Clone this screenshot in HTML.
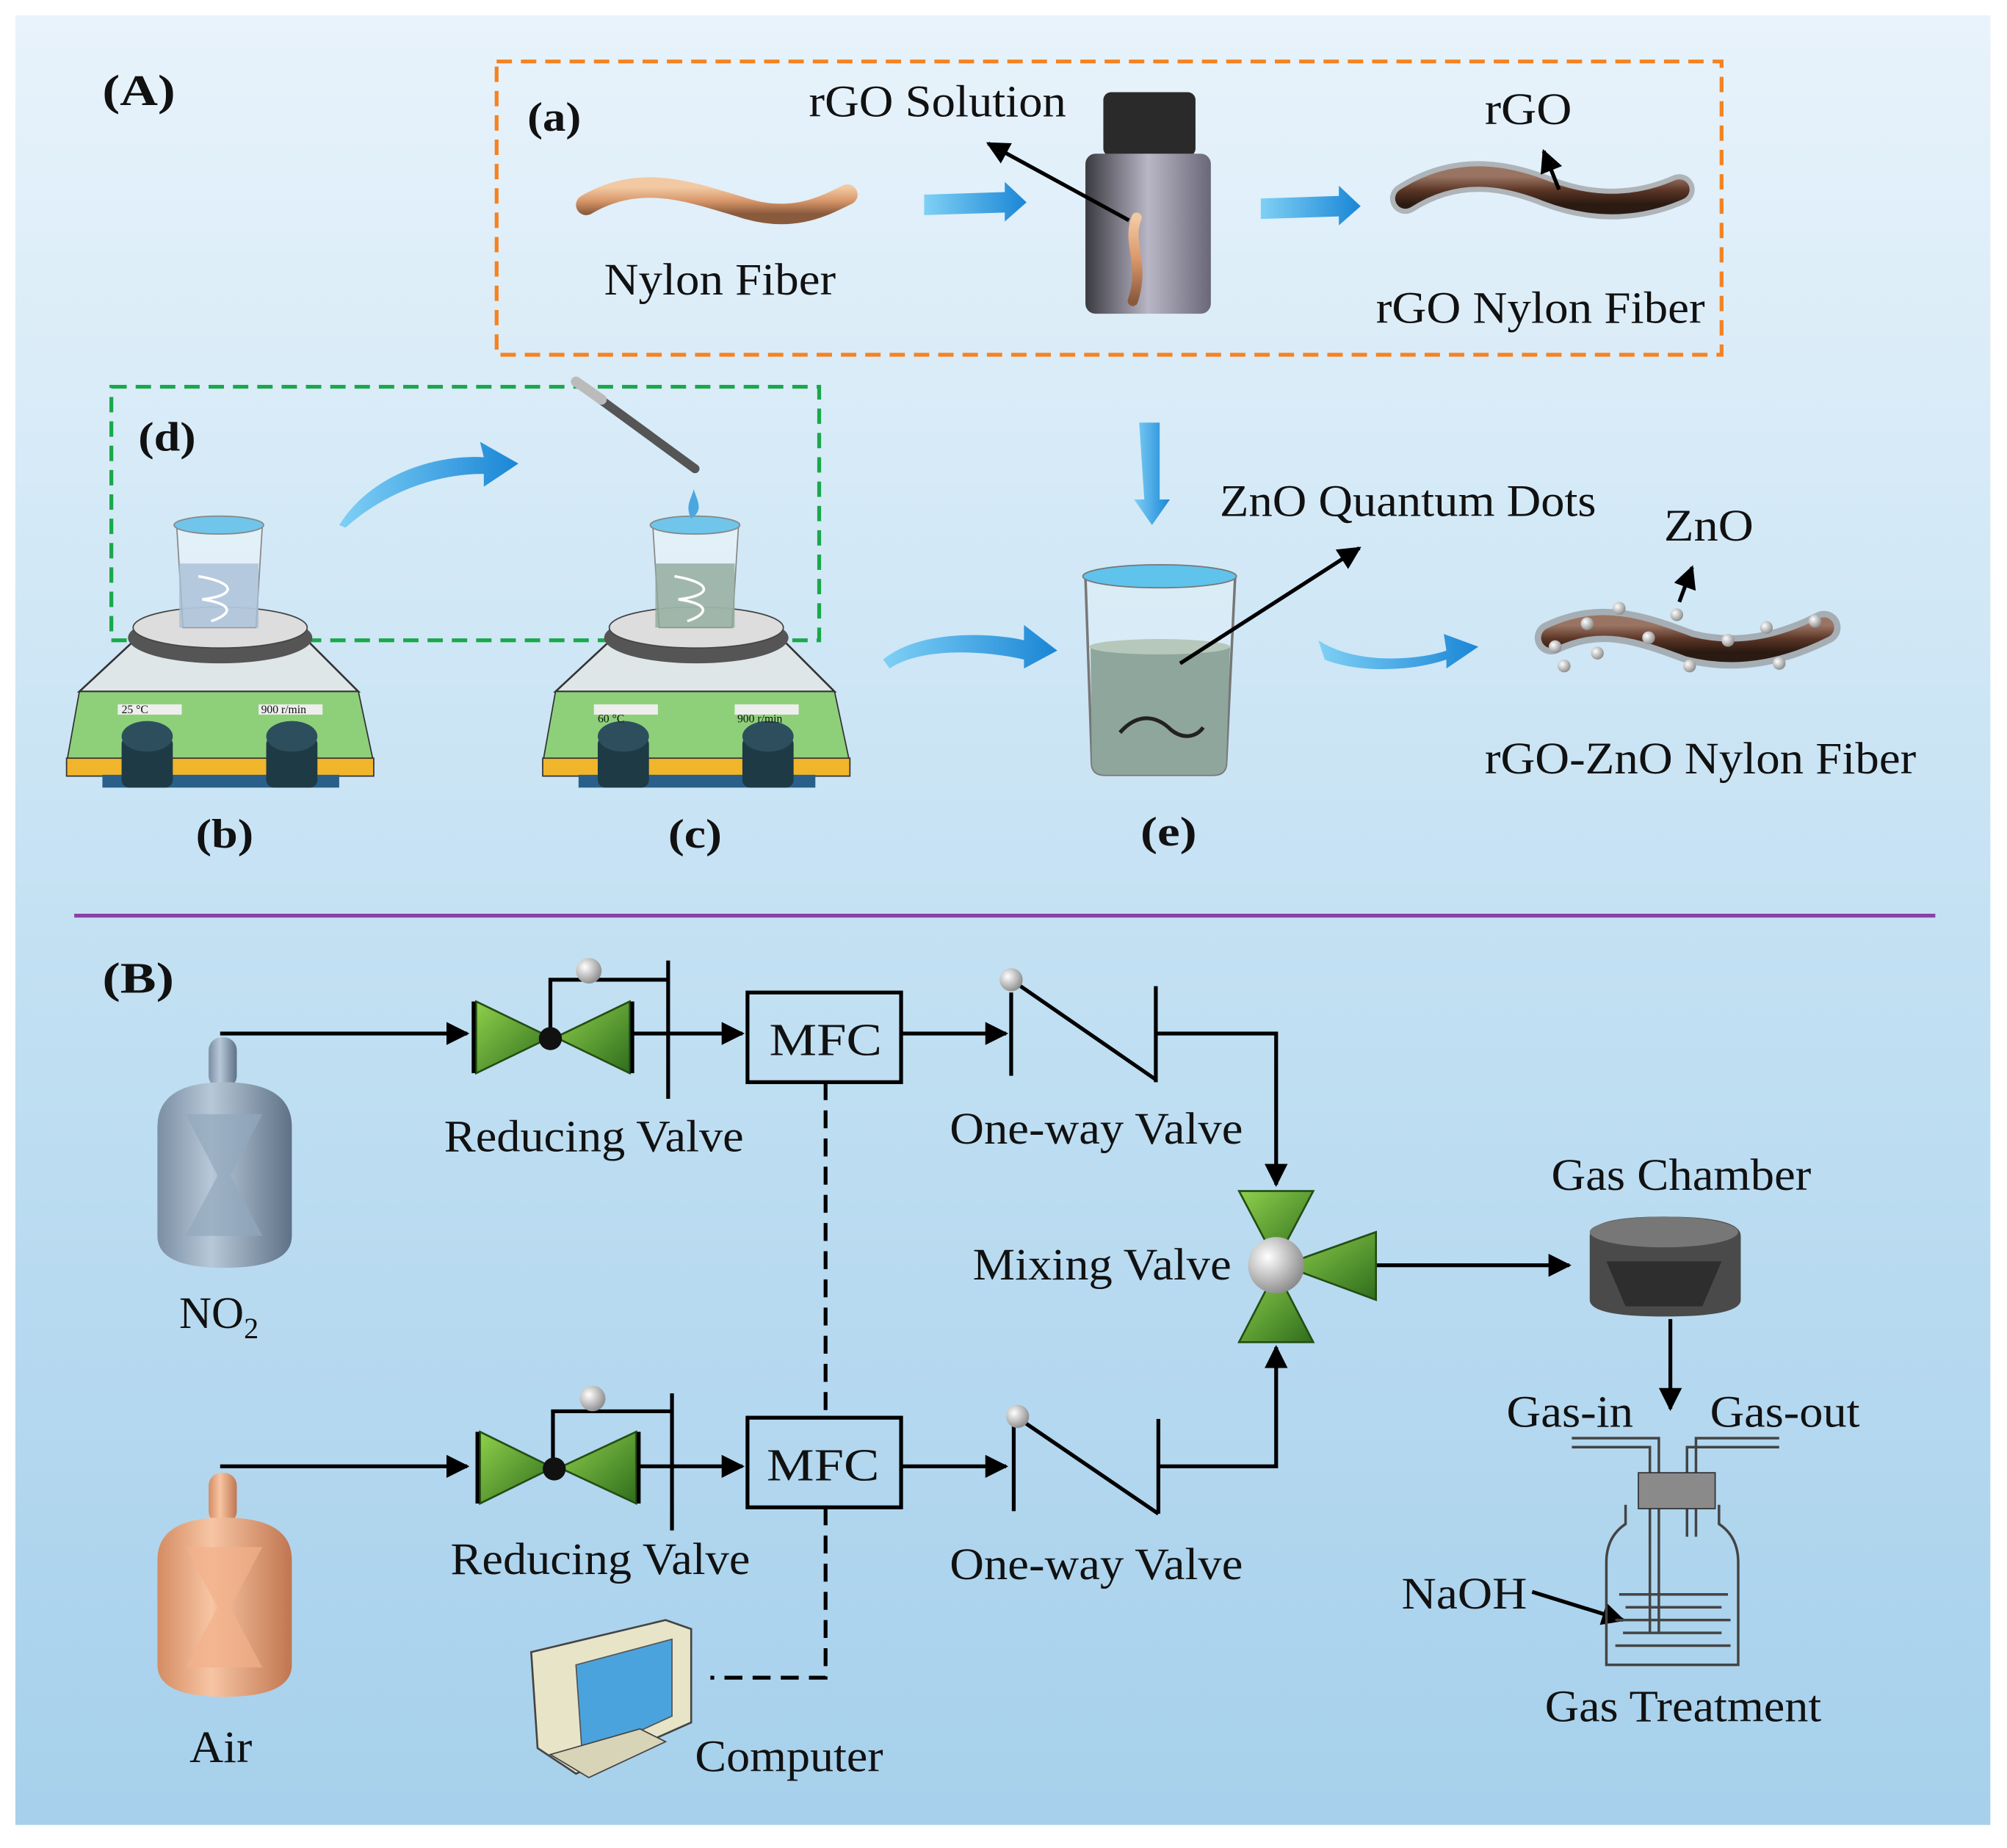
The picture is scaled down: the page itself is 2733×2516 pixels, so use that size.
<!DOCTYPE html>
<html><head><meta charset="utf-8"><style>
html,body{margin:0;padding:0;background:#fff;}
svg{display:block;}
text{font-family:"Liberation Serif",serif;fill:#111;}
</style></head><body>
<svg width="2733" height="2516" viewBox="0 0 1568 1443" preserveAspectRatio="none" xmlns="http://www.w3.org/2000/svg">
<defs>
<linearGradient id="bg" x1="0" y1="0" x2="0" y2="1"><stop offset="0" stop-color="#e8f3fb"/><stop offset="0.5" stop-color="#c4e1f3"/><stop offset="1" stop-color="#a6d0ec"/></linearGradient>
<linearGradient id="blu" x1="0" y1="0" x2="1" y2="0"><stop offset="0" stop-color="#7fd0f5"/><stop offset="1" stop-color="#1a86d6"/></linearGradient>
<linearGradient id="tan" x1="0" y1="0" x2="0" y2="1"><stop offset="0" stop-color="#f2c9a3"/><stop offset="0.5" stop-color="#d9976a"/><stop offset="1" stop-color="#8a5a3c"/></linearGradient>
<linearGradient id="brn" x1="0" y1="0" x2="0" y2="1"><stop offset="0" stop-color="#9a7463"/><stop offset="0.5" stop-color="#5b3626"/><stop offset="1" stop-color="#2b1a12"/></linearGradient>
<linearGradient id="bot" x1="0" y1="0" x2="1" y2="0"><stop offset="0" stop-color="#3a3a40"/><stop offset="0.5" stop-color="#b9b6c6"/><stop offset="1" stop-color="#6a6878"/></linearGradient>
<linearGradient id="gry" x1="0" y1="0" x2="1" y2="0"><stop offset="0" stop-color="#7b8ea3"/><stop offset="0.4" stop-color="#b7c8d8"/><stop offset="1" stop-color="#5e7186"/></linearGradient>
<linearGradient id="cop" x1="0" y1="0" x2="1" y2="0"><stop offset="0" stop-color="#d48c63"/><stop offset="0.4" stop-color="#f7c5a3"/><stop offset="1" stop-color="#c07650"/></linearGradient>
<linearGradient id="grn" x1="0" y1="0" x2="1" y2="1"><stop offset="0" stop-color="#8fd04c"/><stop offset="1" stop-color="#2f6d1c"/></linearGradient>
<radialGradient id="ball" cx="0.35" cy="0.35" r="0.7"><stop offset="0" stop-color="#fff"/><stop offset="1" stop-color="#8a8a8a"/></radialGradient>
<marker id="ar" viewBox="0 0 10 10" refX="9" refY="5" markerWidth="6" markerHeight="6" orient="auto"><path d="M0,0L10,5L0,10z" fill="#000"/></marker>
</defs>
<rect x="0" y="0" width="1568" height="1443" fill="#fff"/>
<rect x="12" y="12" width="1543" height="1413" fill="url(#bg)"/>

<!-- Section A -->
<text x="80" y="82" font-size="34" font-weight="bold" textLength="57" lengthAdjust="spacingAndGlyphs">(A)</text>
<rect x="388" y="48" width="957" height="229" fill="none" stroke="#f58220" stroke-width="3" stroke-dasharray="12,7"/>
<text x="412" y="102" font-size="32" font-weight="bold" textLength="42" lengthAdjust="spacingAndGlyphs">(a)</text>
<path d="M458,160 C500,135 540,150 580,162 C620,175 645,160 662,152" stroke="url(#tan)" stroke-width="16" fill="none" stroke-linecap="round"/>
<text x="472" y="230" font-size="35" textLength="181" lengthAdjust="spacingAndGlyphs">Nylon Fiber</text>
<path d="M722,152 L785,150 L785,142 L802,158 L785,173 L785,166 L722,168z" fill="url(#blu)"/>
<text x="632" y="91" font-size="35" textLength="201" lengthAdjust="spacingAndGlyphs">rGO Solution</text>
<rect x="862" y="72" width="72" height="50" rx="6" fill="#2a2a2a"/>
<rect x="848" y="120" width="98" height="125" rx="8" fill="url(#bot)"/>
<path d="M888,170 C880,190 895,205 885,235" stroke="url(#tan)" stroke-width="8" fill="none" stroke-linecap="round"/>
<line x1="882" y1="172" x2="772" y2="112" stroke="#000" stroke-width="3" marker-end="url(#ar)"/>
<path d="M985,155 L1046,153 L1046,145 L1063,161 L1046,176 L1046,169 L985,171z" fill="url(#blu)"/>
<path d="M1098,155 C1140,128 1180,138 1210,150 C1250,165 1285,160 1312,148" stroke="#8c8c8c" stroke-width="24" fill="none" stroke-linecap="round" opacity="0.6"/>
<path d="M1098,155 C1140,128 1180,138 1210,150 C1250,165 1285,160 1312,148" stroke="url(#brn)" stroke-width="16" fill="none" stroke-linecap="round"/>
<text x="1160" y="97" font-size="35" textLength="68" lengthAdjust="spacingAndGlyphs">rGO</text>
<line x1="1218" y1="148" x2="1206" y2="118" stroke="#000" stroke-width="3" marker-end="url(#ar)"/>
<text x="1075" y="252" font-size="35" textLength="257" lengthAdjust="spacingAndGlyphs">rGO Nylon Fiber</text>

<rect x="87" y="302" width="553" height="198" fill="none" stroke="#1aa84a" stroke-width="3" stroke-dasharray="12,7"/>
<text x="108" y="352" font-size="32" font-weight="bold" textLength="45" lengthAdjust="spacingAndGlyphs">(d)</text>
<path d="M265,410 C290,370 340,355 378,357 L375,345 L405,362 L378,380 L378,370 C340,370 300,385 270,412z" fill="url(#blu)"/>
<line x1="450" y1="298" x2="543" y2="366" stroke="#555" stroke-width="7" stroke-linecap="round"/>
<line x1="450" y1="298" x2="470" y2="312" stroke="#bbb" stroke-width="8" stroke-linecap="round"/>

<!-- hot plates -->
<g id="hp">
<path d="M105,500 L240,500 L280,540 L62,540z" fill="#dfe6e8" stroke="#333" stroke-width="1.5"/>
<ellipse cx="172" cy="498" rx="72" ry="20" fill="#555"/>
<ellipse cx="172" cy="490" rx="68" ry="16" fill="#ddd" stroke="#444"/>
<path d="M62,540 L280,540 L292,596 L52,596z" fill="#8ed07a" stroke="#333"/>
<rect x="52" y="592" width="240" height="14" fill="#f0b52a" stroke="#333"/>
<rect x="80" y="605" width="185" height="10" fill="#2a5f8a"/>
<rect x="92" y="550" width="50" height="8" fill="#eee"/><rect x="202" y="550" width="50" height="8" fill="#eee"/>
<rect x="95" y="575" width="40" height="40" rx="6" fill="#1d3a45"/><ellipse cx="115" cy="575" rx="20" ry="12" fill="#2d4f5d"/>
<rect x="208" y="575" width="40" height="40" rx="6" fill="#1d3a45"/><ellipse cx="228" cy="575" rx="20" ry="12" fill="#2d4f5d"/>
</g>
<text x="95" y="557" font-size="9">25 °C</text><text x="204" y="557" font-size="9">900 r/min</text>
<path d="M138,410 L205,410 L200,490 L143,490z" fill="#e8f2fa" fill-opacity="0.7" stroke="#888"/>
<rect x="140" y="440" width="62" height="50" fill="#a9bfd6" opacity="0.8"/>
<ellipse cx="171" cy="410" rx="35" ry="7" fill="#6fc6ea" stroke="#888"/>
<path d="M155,450 C185,455 185,465 158,468 C185,472 180,480 165,485" stroke="#fff" stroke-width="2" fill="none"/>
<use href="#hp" x="372"/>
<text x="467" y="564" font-size="9">60 °C</text><text x="576" y="564" font-size="9">900 r/min</text>
<path d="M510,410 L577,410 L572,490 L515,490z" fill="#e8f2fa" fill-opacity="0.7" stroke="#888"/>
<rect x="512" y="440" width="62" height="50" fill="#90a99a" opacity="0.8"/>
<ellipse cx="543" cy="410" rx="35" ry="7" fill="#6fc6ea" stroke="#888"/>
<path d="M540,405 C535,395 540,390 542,382 C545,392 550,398 540,405z" fill="#4aa7e0"/>
<path d="M527,450 C557,455 557,465 530,468 C557,472 552,480 537,485" stroke="#fff" stroke-width="2" fill="none"/>
<text x="153" y="662" font-size="32" font-weight="bold" textLength="45" lengthAdjust="spacingAndGlyphs">(b)</text>
<text x="522" y="662" font-size="32" font-weight="bold" textLength="42" lengthAdjust="spacingAndGlyphs">(c)</text>

<path d="M890,330 L906,330 L906,390 L914,390 L900,410 L886,390 L894,390z" fill="url(#blu)"/>
<path d="M690,515 C720,490 780,495 800,500 L800,488 L826,508 L800,522 L800,515 C770,508 720,505 695,522z" fill="url(#blu)"/>
<path d="M1030,500 C1060,520 1110,515 1130,508 L1128,495 L1155,505 L1130,522 L1130,515 C1100,525 1060,525 1035,515z" fill="url(#blu)"/>
<path d="M848,450 L965,450 L958,595 Q958,605 948,605 L863,605 Q853,605 853,595z" fill="#e0eef6" fill-opacity="0.6" stroke="#777" stroke-width="2"/>
<path d="M852,505 L961,505 L958,595 Q958,605 948,605 L863,605 Q853,605 853,595z" fill="#8fa69c"/>
<ellipse cx="906" cy="505" rx="55" ry="6" fill="#b6c8bc"/>
<ellipse cx="906" cy="450" rx="60" ry="9" fill="#5fc3ec" stroke="#777"/>
<path d="M875,572 C890,555 905,560 915,570 C925,578 935,575 940,568" stroke="#222" stroke-width="3" fill="none"/>
<text x="953" y="403" font-size="35" textLength="294" lengthAdjust="spacingAndGlyphs">ZnO Quantum Dots</text>
<line x1="922" y1="518" x2="1062" y2="428" stroke="#000" stroke-width="3" marker-end="url(#ar)"/>
<text x="891" y="660" font-size="32" font-weight="bold" textLength="44" lengthAdjust="spacingAndGlyphs">(e)</text>
<path d="M1212,498 C1250,480 1280,490 1320,505 C1360,515 1395,505 1425,490" stroke="#888" stroke-width="26" fill="none" stroke-linecap="round" opacity="0.6"/>
<path d="M1212,498 C1250,480 1280,490 1320,505 C1360,515 1395,505 1425,490" stroke="url(#brn)" stroke-width="16" fill="none" stroke-linecap="round"/>
<g fill="url(#ball)">
<circle cx="1215" cy="505" r="5"/><circle cx="1240" cy="487" r="5"/><circle cx="1265" cy="475" r="5"/><circle cx="1288" cy="498" r="5"/><circle cx="1310" cy="480" r="5"/><circle cx="1320" cy="520" r="5"/><circle cx="1350" cy="500" r="5"/><circle cx="1380" cy="490" r="5"/><circle cx="1390" cy="518" r="5"/><circle cx="1418" cy="485" r="5"/><circle cx="1248" cy="510" r="5"/><circle cx="1222" cy="520" r="5"/></g>
<text x="1300" y="422" font-size="35" textLength="70" lengthAdjust="spacingAndGlyphs">ZnO</text>
<line x1="1312" y1="470" x2="1322" y2="443" stroke="#000" stroke-width="3" marker-end="url(#ar)"/>
<text x="1160" y="604" font-size="35" textLength="337" lengthAdjust="spacingAndGlyphs">rGO-ZnO Nylon Fiber</text>

<line x1="58" y1="715" x2="1512" y2="715" stroke="#8e3fa6" stroke-width="3"/>

<!-- Section B -->
<text x="80" y="775" font-size="34" font-weight="bold" textLength="56" lengthAdjust="spacingAndGlyphs">(B)</text>
<g stroke="#000" stroke-width="3" fill="none">
<line x1="172" y1="807" x2="365" y2="807" marker-end="url(#ar)"/>
<line x1="172" y1="1145" x2="365" y2="1145" marker-end="url(#ar)"/>
<line x1="494" y1="807" x2="580" y2="807" marker-end="url(#ar)"/>
<line x1="497" y1="1145" x2="580" y2="1145" marker-end="url(#ar)"/>
<line x1="704" y1="807" x2="786" y2="807" marker-end="url(#ar)"/>
<line x1="704" y1="1145" x2="786" y2="1145" marker-end="url(#ar)"/>
<polyline points="903,807 997,807 997,925" marker-end="url(#ar)"/>
<polyline points="905,1145 997,1145 997,1052" marker-end="url(#ar)"/>
<line x1="1075" y1="988" x2="1226" y2="988" marker-end="url(#ar)"/>
<line x1="1305" y1="1030" x2="1305" y2="1100" marker-end="url(#ar)"/>
<polyline points="430,812 430,765 522,765"/><line x1="522" y1="750" x2="522" y2="858"/>
<polyline points="432,1150 432,1102 525,1102"/><line x1="525" y1="1088" x2="525" y2="1195"/>
<line x1="790" y1="775" x2="790" y2="840"/><line x1="790" y1="765" x2="903" y2="843"/><line x1="903" y1="770" x2="903" y2="845"/>
<line x1="792" y1="1112" x2="792" y2="1180"/><line x1="792" y1="1105" x2="905" y2="1182"/><line x1="905" y1="1108" x2="905" y2="1182"/>
<polyline points="645,845 645,1108" stroke-dasharray="14,8"/>
<polyline points="645,1177 645,1310 555,1310" stroke-dasharray="14,8"/>
<line x1="1197" y1="1243" x2="1268" y2="1265" marker-end="url(#ar)"/>
</g>
<g fill="url(#grn)" stroke="#234d13" stroke-width="1.5">
<path d="M372,782 L430,810 L372,838z"/><path d="M492,782 L434,810 L492,838z"/>
<path d="M375,1118 L432,1146 L375,1174z"/><path d="M497,1118 L437,1146 L497,1174z"/>
<path d="M968,930 L1026,930 L997,985z"/><path d="M968,1048 L1026,1048 L997,992z"/><path d="M1075,962 L1075,1015 L1002,988z"/>
</g>
<line x1="370" y1="782" x2="370" y2="838" stroke="#000" stroke-width="3"/><line x1="494" y1="782" x2="494" y2="838" stroke="#000" stroke-width="3"/>
<line x1="373" y1="1118" x2="373" y2="1174" stroke="#000" stroke-width="3"/><line x1="499" y1="1118" x2="499" y2="1174" stroke="#000" stroke-width="3"/>
<circle cx="430" cy="811" r="9" fill="#111"/><circle cx="433" cy="1147" r="9" fill="#111"/>
<circle cx="460" cy="758" r="10" fill="url(#ball)"/><circle cx="463" cy="1092" r="10" fill="url(#ball)"/>
<circle cx="790" cy="765" r="9" fill="url(#ball)"/><circle cx="795" cy="1106" r="9" fill="url(#ball)"/>
<circle cx="997" cy="988" r="22" fill="url(#ball)"/>
<rect x="584" y="775" width="120" height="70" fill="none" stroke="#000" stroke-width="3"/>
<text x="601" y="824" font-size="36" textLength="88" lengthAdjust="spacingAndGlyphs">MFC</text>
<rect x="584" y="1107" width="120" height="70" fill="none" stroke="#000" stroke-width="3"/>
<text x="599" y="1156" font-size="36" textLength="88" lengthAdjust="spacingAndGlyphs">MFC</text>
<text x="347" y="899" font-size="35" textLength="234" lengthAdjust="spacingAndGlyphs">Reducing Valve</text>
<text x="352" y="1229" font-size="35" textLength="234" lengthAdjust="spacingAndGlyphs">Reducing Valve</text>
<text x="742" y="893" font-size="35" textLength="229" lengthAdjust="spacingAndGlyphs">One-way Valve</text>
<text x="742" y="1233" font-size="35" textLength="229" lengthAdjust="spacingAndGlyphs">One-way Valve</text>
<text x="760" y="999" font-size="35" textLength="202" lengthAdjust="spacingAndGlyphs">Mixing Valve</text>
<text x="1212" y="929" font-size="35" textLength="203" lengthAdjust="spacingAndGlyphs">Gas Chamber</text>

<!-- cylinders -->
<rect x="163" y="810" width="22" height="40" rx="10" fill="url(#gry)"/>
<path d="M123,880 Q123,845 175,845 Q228,845 228,880 L228,965 Q228,990 175,990 Q123,990 123,965z" fill="url(#gry)"/>
<path d="M145,870 L205,870 L180,918 L205,965 L145,965 L170,918z" fill="#93a8bd" opacity="0.7"/>
<text x="140" y="1037" font-size="35">NO<tspan font-size="23" dy="8">2</tspan></text>
<rect x="163" y="1150" width="22" height="40" rx="10" fill="url(#cop)"/>
<path d="M123,1218 Q123,1185 175,1185 Q228,1185 228,1218 L228,1300 Q228,1325 175,1325 Q123,1325 123,1300z" fill="url(#cop)"/>
<path d="M145,1208 L205,1208 L180,1255 L205,1302 L145,1302 L170,1255z" fill="#f2b08a" opacity="0.7"/>
<text x="148" y="1376" font-size="35" textLength="49" lengthAdjust="spacingAndGlyphs">Air</text>

<!-- gas chamber -->
<path d="M1242,965 Q1242,950 1300,950 Q1360,950 1360,965 L1360,1015 Q1360,1028 1300,1028 Q1242,1028 1242,1015z" fill="#4a4a4a"/>
<ellipse cx="1300" cy="962" rx="58" ry="12" fill="#777"/>
<path d="M1255,985 L1345,985 L1330,1020 L1270,1020z" fill="#2e2e2e"/>

<!-- gas treatment -->
<text x="1177" y="1114" font-size="35" textLength="99" lengthAdjust="spacingAndGlyphs">Gas-in</text>
<text x="1336" y="1114" font-size="35" textLength="117" lengthAdjust="spacingAndGlyphs">Gas-out</text>
<g stroke="#444" stroke-width="2" fill="none">
<polyline points="1228,1123 1296,1123 1296,1275"/><polyline points="1228,1130 1289,1130 1289,1275"/>
<polyline points="1390,1123 1325,1123 1325,1200"/><polyline points="1390,1130 1318,1130 1318,1200"/>
<path d="M1270,1175 L1270,1190 Q1255,1200 1255,1220 L1255,1300 L1358,1300 L1358,1220 Q1358,1200 1343,1190 L1343,1175"/>
<path d="M1265,1245 L1350,1245 M1270,1255 L1345,1255 M1262,1265 L1352,1265 M1268,1275 L1345,1275 M1262,1285 L1352,1285"/>
</g>
<rect x="1280" y="1150" width="60" height="28" fill="#8a8a8a" stroke="#333"/>
<text x="1095" y="1256" font-size="35" textLength="98" lengthAdjust="spacingAndGlyphs">NaOH</text>
<text x="1207" y="1344" font-size="35" textLength="216" lengthAdjust="spacingAndGlyphs">Gas Treatment</text>

<!-- computer -->
<path d="M415,1290 L520,1265 L540,1272 L540,1345 L450,1385 L420,1365z" fill="#e7e4c8" stroke="#444" stroke-width="1.5"/>
<path d="M450,1300 L525,1280 L525,1340 L455,1372z" fill="#4ba3dd" stroke="#555"/>
<path d="M430,1370 L460,1388 L520,1360 L500,1350z" fill="#d8d4b8" stroke="#444"/>
<text x="543" y="1383" font-size="35" textLength="147" lengthAdjust="spacingAndGlyphs">Computer</text>
</svg>
</body></html>
